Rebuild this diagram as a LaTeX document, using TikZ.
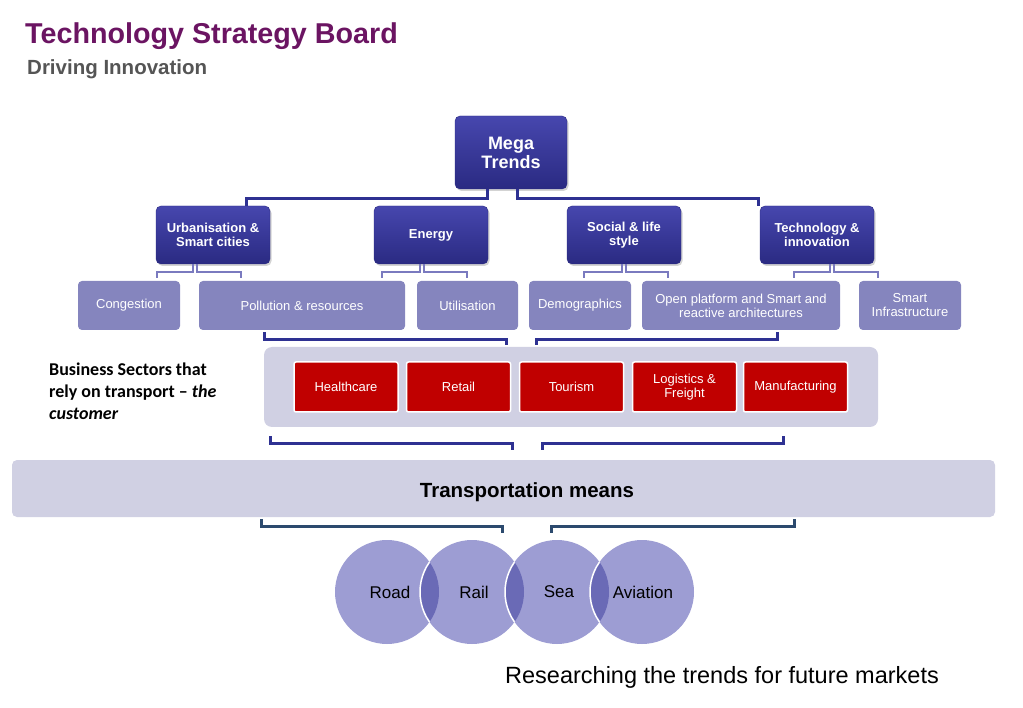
\documentclass[tikz,border=0pt]{standalone}
\usepackage{fontspec}
\setmainfont{Liberation Sans}
\newfontfamily\carl{Carlito}
\usetikzlibrary{shadows,calc}
\definecolor{tsbpurple}{HTML}{6B1462}
\definecolor{subgray}{HTML}{555555}
\definecolor{dkbluetop}{HTML}{4747AE}
\definecolor{dkbluebot}{HTML}{2A2A82}
\definecolor{midpurp}{HTML}{8585BE}
\definecolor{linedk}{HTML}{2E3192}
\definecolor{linelt}{HTML}{7A7ABF}
\definecolor{panelc}{HTML}{D0D0E3}
\definecolor{sectred}{HTML}{C00000}
\definecolor{tlinec}{HTML}{2C4A6E}
\definecolor{circc}{HTML}{9D9DD3}
\definecolor{lensc}{HTML}{6A6AB6}
\begin{document}
\begin{tikzpicture}[x=1pt,y=-1pt,
  trendbox/.style={rounded corners=5pt, top color=dkbluetop, bottom color=dkbluebot, draw=dkbluebot, text=white,
    font=\bfseries\fontsize{13}{14}\selectfont, align=center, inner sep=0pt,
    drop shadow={opacity=0.35,shadow xshift=1.5pt,shadow yshift=-2pt}},
  subbox/.style={rounded corners=4pt, fill=midpurp, text=white, font=\fontsize{13}{14}\selectfont,
    align=center, inner sep=0pt, minimum height=49pt},
  sectbox/.style={fill=sectred, draw=white, line width=1.5pt, text=white, font=\fontsize{13}{14}\selectfont,
    align=center, inner sep=0pt, minimum width=104pt, minimum height=50pt, rounded corners=2pt},
  conn/.style={draw=linedk, line width=3pt},
  br/.style={draw=linelt, line width=2.5pt},
  tconn/.style={draw=tlinec, line width=3pt},
  vcirc/.style={circle, minimum size=104pt, inner sep=0pt},
  vlabel/.style={font=\fontsize{17}{20}\selectfont, text=black, inner sep=0pt},
  bstext/.style={anchor=base west, font=\carl\bfseries\fontsize{18}{22}\selectfont, inner sep=0pt},
]
\useasboundingbox (0,0) rectangle (1023,708);

% Header
\node[anchor=base west, text=tsbpurple, font=\bfseries\fontsize{28.7}{30}\selectfont, inner sep=0pt] (title) at (25,44) {Technology Strategy Board};
\node[anchor=base west, text=subgray, font=\bfseries\fontsize{20.5}{22}\selectfont, inner sep=0pt] (subtitle) at (27,75) {Driving Innovation};

% Top level
\node[trendbox, minimum width=112pt, minimum height=73pt, font=\bfseries\fontsize{18}{19}\selectfont] (mega) at (511,152.5) {Mega\\Trends};

% Level 2
\node[trendbox, minimum width=114pt, minimum height=58pt] (urb) at (213,235) {Urbanisation \&\\Smart cities};
\node[trendbox, minimum width=114pt, minimum height=58pt] (energy) at (431,235) {Energy};
\node[trendbox, minimum width=114pt, minimum height=58pt] (social) at (624,235) {Social \& life\\style};
\node[trendbox, minimum width=114pt, minimum height=58pt] (tech) at (817,235) {Technology \&\\innovation};

% Level 3
\node[subbox, minimum width=102pt] (cong) at (129,305.5) {Congestion};
\node[subbox, minimum width=206pt] (poll) at (302,305.5) {Pollution \& resources};
\node[subbox, minimum width=101pt] (util) at (467.5,305.5) {Utilisation};
\node[subbox, minimum width=102pt] (demo) at (580,305.5) {Demographics};
\node[subbox, minimum width=198pt] (open) at (741,305.5) {Open platform and Smart and\\reactive architectures};
\node[subbox, minimum width=102pt] (smart) at (910,305.5) {Smart\\Infrastructure};

% Mega connectors
\draw[conn] ($(mega.south)+(-24,0)$) -- ++(0,9) -| ($(urb.north)+(33,0)$);
\draw[conn] ($(mega.south)+(6,0)$) -- ++(0,9) -| ($(tech.north)+(-59,0)$);

% Level-2 brackets
\draw[br] ($(urb.south)+(-20,0)$) -- ++(0,8) -| ($(urb.south)+(-56,14)$);
\draw[br] ($(urb.south)+(-16,0)$) -- ++(0,8) -| ($(urb.south)+(28,14)$);
\draw[br] ($(energy.south)+(-11,0)$) -- ++(0,8) -| ($(energy.south)+(-49,14)$);
\draw[br] ($(energy.south)+(-7,0)$) -- ++(0,8) -| ($(energy.south)+(36,14)$);
\draw[br] ($(social.south)+(-2,0)$) -- ++(0,8) -| ($(social.south)+(-40,14)$);
\draw[br] ($(social.south)+(2,0)$) -- ++(0,8) -| ($(social.south)+(44,14)$);
\draw[br] ($(tech.south)+(13,0)$) -- ++(0,8) -| ($(tech.south)+(-23,14)$);
\draw[br] ($(tech.south)+(17,0)$) -- ++(0,8) -| ($(tech.south)+(61,14)$);

% Business sectors panel
\node[fill=panelc, rounded corners=8pt, minimum width=614pt, minimum height=80pt, inner sep=0pt] (panel) at (571,387) {};
\node[sectbox] (health) at (346,387) {Healthcare};
\node[sectbox] (retail) at (458.5,387) {Retail};
\node[sectbox] (tour) at (571.5,387) {Tourism};
\node[sectbox] (logi) at (684.5,387) {Logistics \&\\Freight};
\node[sectbox] (manu) at (795.5,387) {Manufacturing};

\node[bstext] (bs1) at (49,376) {Business Sectors that};
\node[bstext] (bs2) at (49,398) {rely on transport – \textit{the}};
\node[bstext] (bs3) at (49,420) {\textit{customer}};

% Level 3 to panel
\draw[conn] ($(poll.south)+(-38,2)$) -- ++(0,7) -| ($(panel.north)+(-65,-2)$);
\draw[conn] ($(open.south)+(36,2)$) -- ++(0,7) -| ($(panel.north)+(-35,-2)$);

% Transportation bar
\node[fill=panelc, rounded corners=5pt, minimum width=983pt, minimum height=57pt, inner sep=0pt] (trans) at (503.5,488.5) {};
\node[font=\bfseries\fontsize{20.5}{22}\selectfont, inner sep=0pt] (transtxt) at (527,492) {Transportation means};

% Panel to transportation
\draw[conn] ($(panel.south)+(-301,9)$) -- ++(0,7) -| ($(trans.north)+(8.5,-10)$);
\draw[conn] ($(panel.south)+(212,9)$) -- ++(0,7) -| ($(trans.north)+(38.5,-10)$);

% Circles
\node[vcirc] (road) at (387,592) {};
\node[vcirc] (rail) at (472,592) {};
\node[vcirc] (sea) at (557,592) {};
\node[vcirc] (avi) at (642,592) {};
\fill[circc] (road.center) circle[radius=52pt];
\fill[circc] (rail.center) circle[radius=52pt];
\fill[circc] (sea.center) circle[radius=52pt];
\fill[circc] (avi.center) circle[radius=52pt];
\begin{scope}
  \clip (road.center) circle[radius=52pt];
  \fill[lensc] (rail.center) circle[radius=52pt];
  \draw[white, line width=1.5pt] (rail.center) circle[radius=52pt];
\end{scope}
\begin{scope}
  \clip (rail.center) circle[radius=52pt];
  \fill[lensc] (sea.center) circle[radius=52pt];
  \draw[white, line width=1.5pt] (sea.center) circle[radius=52pt];
\end{scope}
\begin{scope}
  \clip (sea.center) circle[radius=52pt];
  \fill[lensc] (avi.center) circle[radius=52pt];
  \draw[white, line width=1.5pt] (avi.center) circle[radius=52pt];
\end{scope}
\node[vlabel] (roadtxt) at (390,592) {Road};
\node[vlabel] (railtxt) at (474,592) {Rail};
\node[vlabel] (seatxt) at (559,592) {Sea};
\node[vlabel] (avitxt) at (643,592) {Aviation};

% Transportation to modes
\draw[tconn] ($(trans.south)+(-242.5,2)$) -- ++(0,7) -| ($(rail.north)+(30,-7)$);
\draw[tconn] ($(trans.south)+(290.5,2)$) -- ++(0,7) -| ($(sea.north)+(-6,-7)$);

% Footer
\node[anchor=base west, font=\fontsize{23.5}{26}\selectfont, inner sep=0pt] (research) at (505,683) {Researching the trends for future markets};
\end{tikzpicture}
\end{document}
